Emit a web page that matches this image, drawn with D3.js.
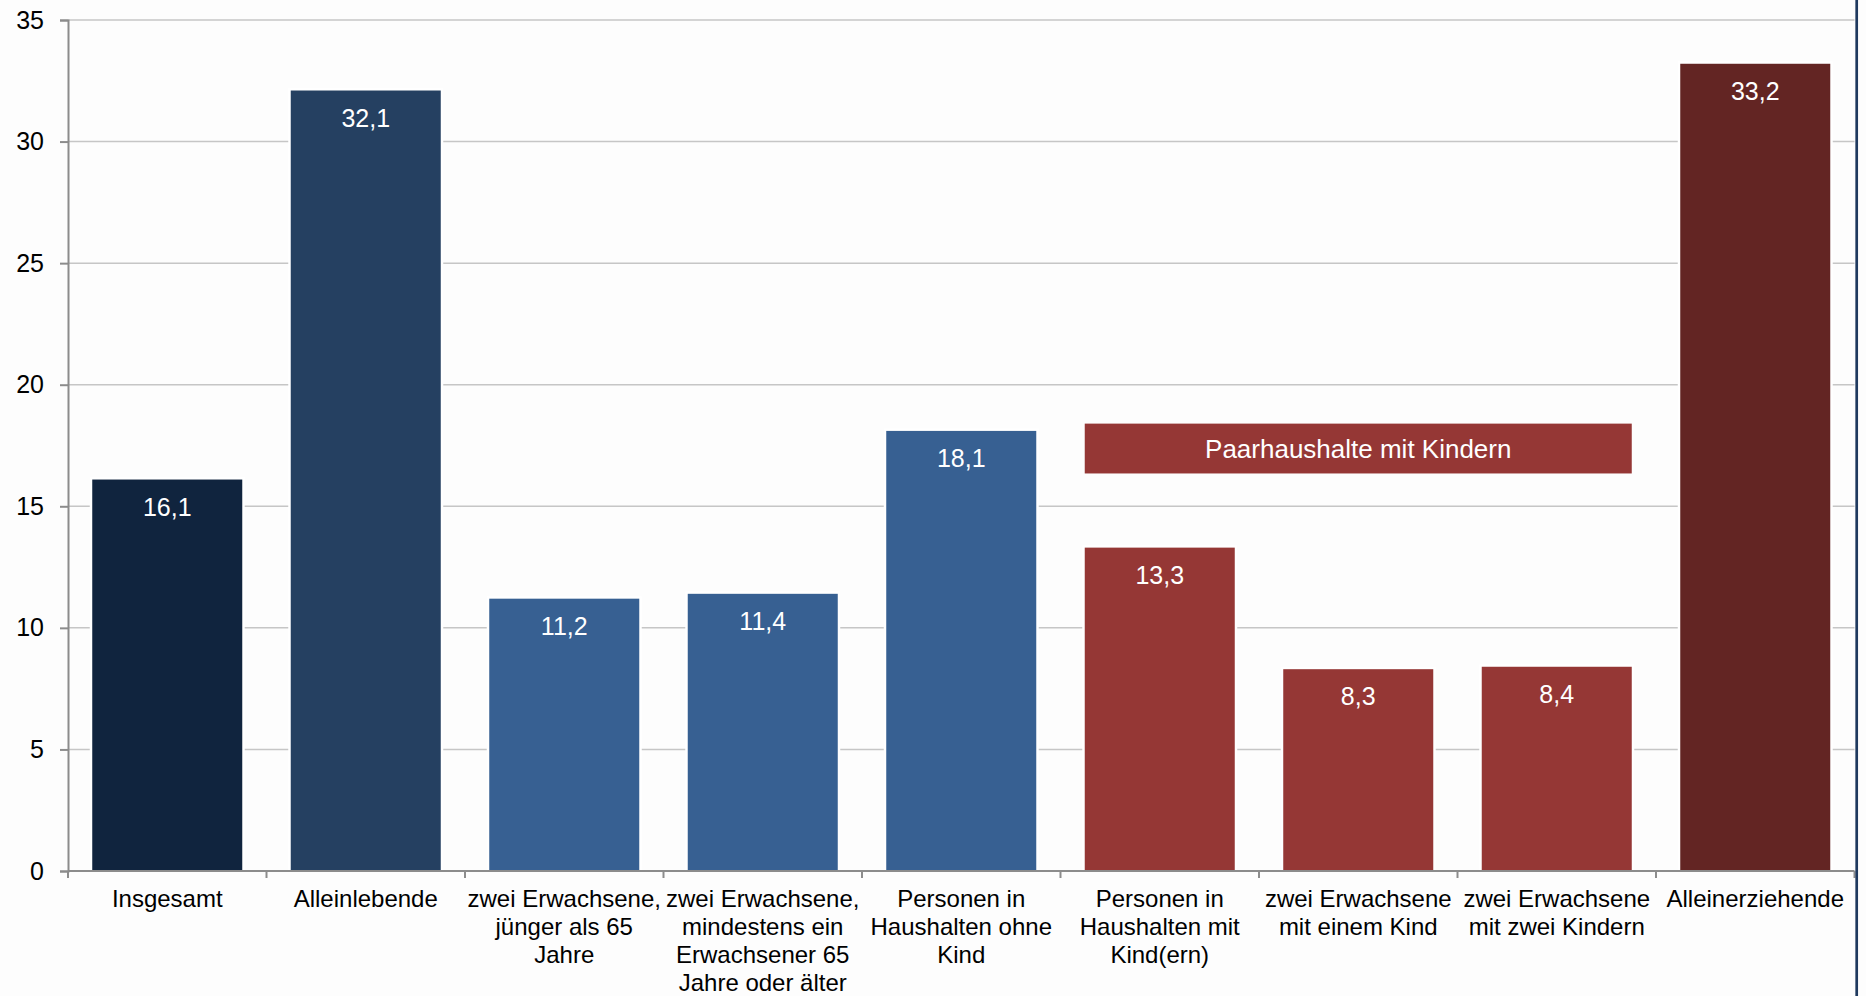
<!doctype html>
<html lang="de">
<head>
<meta charset="utf-8">
<title>Armutsgefährdungsquote nach Haushaltstyp</title>
<script src="https://cdn.jsdelivr.net/npm/d3@7"></script>
<style>
  body { margin: 0; background: #fdfdfd; }
  svg { display: block; font-family: "Liberation Sans", Arial, Helvetica, sans-serif; }
</style>
</head>
<body>
<div id="chart"></div>
<script>
// categories (lines of each tick label)
var categories = [
  ["Insgesamt"],
  ["Alleinlebende"],
  ["zwei Erwachsene,", "jünger als 65", "Jahre"],
  ["zwei Erwachsene,", "mindestens ein", "Erwachsener 65", "Jahre oder älter"],
  ["Personen in", "Haushalten ohne", "Kind"],
  ["Personen in", "Haushalten mit", "Kind(ern)"],
  ["zwei Erwachsene", "mit einem Kind"],
  ["zwei Erwachsene", "mit zwei Kindern"],
  ["Alleinerziehende"]
];
var values = [16.1, 32.1, 11.2, 11.4, 18.1, 13.3, 8.3, 8.4, 33.2];
var barColors = ["#10243e", "#254061", "#376092", "#376092", "#376092", "#953735", "#953735", "#953735", "#632523"];
var yTicks = [0, 5, 10, 15, 20, 25, 30, 35];

// group annotation: from 6th to 8th bar
var groupLabel = "Paarhaushalte mit Kindern";
var groupFrom = 5, groupTo = 7, groupTop = 18.4, groupBottom = 16.35;

var W = 1866, H = 996;
var plotLeft = 68, plotRight = 1854.5, plotTop = 20, plotBottom = 871;

var svg = d3.select("#chart").append("svg")
  .attr("width", W).attr("height", H);

var x = d3.scaleBand()
  .domain(d3.range(categories.length))
  .range([plotLeft, plotRight])
  .paddingInner(0.2443)
  .paddingOuter(0.2443 / 2);

var y = d3.scaleLinear().domain([0, 35]).range([plotBottom, plotTop]);

// gridlines
svg.append("g").selectAll("line")
  .data(yTicks.filter(function (d) { return d > 0; }))
  .enter().append("line")
  .attr("x1", plotLeft).attr("x2", plotRight)
  .attr("y1", function (d) { return y(d); })
  .attr("y2", function (d) { return y(d); })
  .attr("stroke", "#c6c6c6")
  .attr("stroke-width", 1.5);

// white halo behind bars
svg.append("g").selectAll("rect")
  .data(values)
  .enter().append("rect")
  .attr("x", function (d, i) { return x(i) - 2.5; })
  .attr("y", function (d) { return y(d) - 2.5; })
  .attr("width", x.bandwidth() + 5)
  .attr("height", function (d) { return plotBottom - y(d) + 2.5; })
  .attr("fill", "#ffffff");

// bars
svg.append("g").selectAll("rect")
  .data(values)
  .enter().append("rect")
  .attr("x", function (d, i) { return x(i); })
  .attr("y", function (d) { return y(d); })
  .attr("width", x.bandwidth())
  .attr("height", function (d) { return plotBottom - y(d); })
  .attr("fill", function (d, i) { return barColors[i]; });

// value labels
svg.append("g").selectAll("text")
  .data(values)
  .enter().append("text")
  .attr("x", function (d, i) { return x(i) + x.bandwidth() / 2; })
  .attr("y", function (d) { return y(d) + 36; })
  .attr("text-anchor", "middle")
  .attr("fill", "#ffffff")
  .attr("font-size", "25px")
  .text(function (d) { return d3.format(".1f")(d).replace(".", ","); });

// group annotation box
var gx0 = x(groupFrom), gx1 = x(groupTo) + x.bandwidth();
svg.append("rect")
  .attr("x", gx0).attr("y", y(groupTop))
  .attr("width", gx1 - gx0)
  .attr("height", y(groupBottom) - y(groupTop))
  .attr("fill", "#953735");
svg.append("text")
  .attr("x", (gx0 + gx1) / 2)
  .attr("y", (y(groupTop) + y(groupBottom)) / 2 + 9)
  .attr("text-anchor", "middle")
  .attr("fill", "#ffffff")
  .attr("font-size", "26px")
  .text(groupLabel);

// y axis
var yAxis = svg.append("g")
  .attr("transform", "translate(" + plotLeft + ",0)")
  .call(d3.axisLeft(y).tickValues(yTicks).tickSize(8).tickPadding(16).tickFormat(d3.format("d")));
yAxis.select(".domain").attr("stroke", "#8c8c8c").attr("stroke-width", 2);
yAxis.selectAll(".tick line").attr("stroke", "#8c8c8c").attr("stroke-width", 2);
yAxis.selectAll(".tick text")
  .attr("font-size", "25px").attr("fill", "#000")
  .attr("font-family", "Liberation Sans, Arial, sans-serif");

// x axis with ticks at band boundaries
svg.append("line")
  .attr("x1", plotLeft).attr("x2", plotRight)
  .attr("y1", plotBottom).attr("y2", plotBottom)
  .attr("stroke", "#8c8c8c").attr("stroke-width", 2);
svg.append("g").selectAll("line")
  .data(d3.range(categories.length + 1))
  .enter().append("line")
  .attr("x1", function (i) { return plotLeft + i * x.step(); })
  .attr("x2", function (i) { return plotLeft + i * x.step(); })
  .attr("y1", plotBottom).attr("y2", plotBottom + 7)
  .attr("stroke", "#8c8c8c").attr("stroke-width", 2);

// x labels
var labels = svg.append("g").selectAll("text")
  .data(categories)
  .enter().append("text")
  .attr("x", function (d, i) { return x(i) + x.bandwidth() / 2; })
  .attr("y", plotBottom + 36)
  .attr("text-anchor", "middle")
  .attr("font-size", "24px")
  .attr("fill", "#000");
labels.selectAll("tspan")
  .data(function (d, i) { return d.map(function (t) { return { t: t, i: i }; }); })
  .enter().append("tspan")
  .attr("x", function (d) { return x(d.i) + x.bandwidth() / 2; })
  .attr("dy", function (d, j) { return j === 0 ? 0 : 28; })
  .text(function (d) { return d.t; });

// right border line
svg.append("line")
  .attr("x1", 1856.7).attr("x2", 1856.7)
  .attr("y1", 0).attr("y2", H)
  .attr("stroke", "#1f3a5f").attr("stroke-width", 2.7);
</script>
</body>
</html>
